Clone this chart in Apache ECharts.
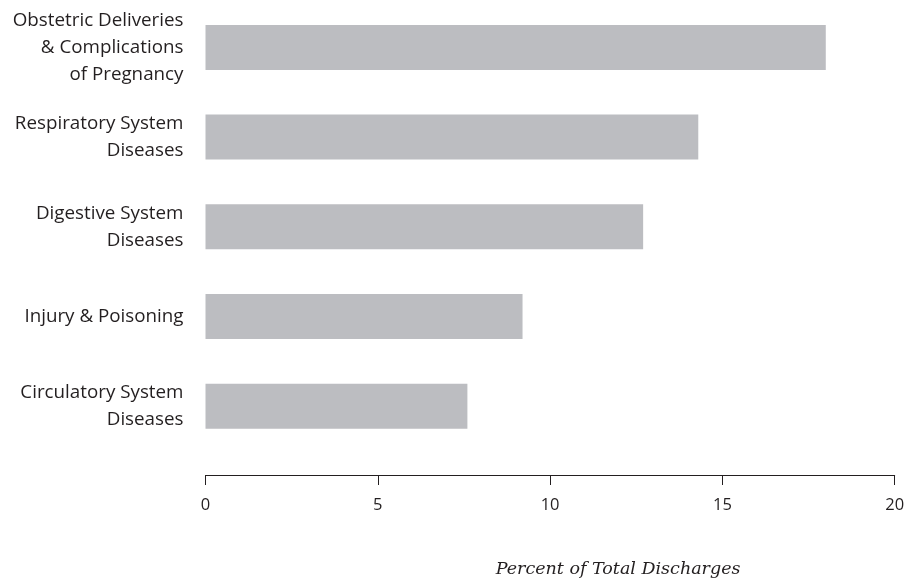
<!DOCTYPE html>
<html>
<head>
<meta charset="utf-8">
<script src="https://cdn.jsdelivr.net/npm/echarts@6/dist/echarts.min.js"></script>
<style>html,body{margin:0;padding:0;background:#fff}#c{width:915px;height:583px}</style>
</head>
<body>
<div id="c"></div>
<script>
const categories = [
  "Obstetric Deliveries\n& Complications\nof Pregnancy",
  "Respiratory System\nDiseases",
  "Digestive System\nDiseases",
  "Injury & Poisoning",
  "Circulatory System\nDiseases"
];
const values = [18.0, 14.3, 12.7, 9.2, 7.6];
const xTicks = [0, 5, 10, 15, 20];
const xTitle = "Percent of Total Discharges";

const chart = echarts.init(document.getElementById('c'), null, {renderer: 'canvas'});
chart.setOption({
  animation: false,
  backgroundColor: '#ffffff',
  grid: {left: 205.5, right: 20.3, top: 2.6, height: 448.8, containLabel: false},
  xAxis: {
    type: 'value',
    min: xTicks[0],
    max: xTicks[xTicks.length - 1],
    interval: xTicks[1] - xTicks[0],
    offset: 24,
    axisLine: {show: true, lineStyle: {color: '#231f20', width: 1}},
    axisTick: {show: true, length: 10, lineStyle: {color: '#231f20', width: 1}},
    axisLabel: {color: '#231f20', fontSize: 16.5, fontFamily: 'Open Sans', margin: 22},
    splitLine: {show: false},
    name: xTitle,
    nameLocation: 'middle',
    nameGap: 85,
    nameTextStyle: {color: '#231f20', fontSize: 17.5, fontStyle: 'italic', fontFamily: 'DejaVu Serif', padding: [0, 0, 0, 136]}
  },
  yAxis: {
    type: 'category',
    data: categories,
    inverse: true,
    axisLine: {show: false},
    axisTick: {show: false},
    axisLabel: {color: '#231f20', fontSize: 18.8, fontFamily: 'Open Sans', margin: 22, lineHeight: 27, align: 'right'},
    splitLine: {show: false}
  },
  series: [{
    type: 'bar',
    data: values,
    barWidth: 45,
    itemStyle: {color: '#bcbdc1'},
    silent: true
  }]
});
</script>
</body>
</html>
